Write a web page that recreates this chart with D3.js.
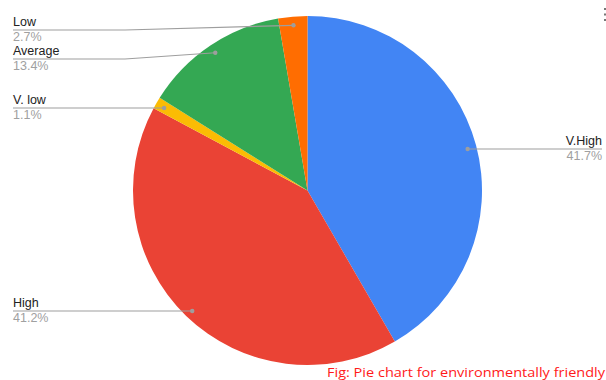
<!DOCTYPE html>
<html>
<head>
<meta charset="utf-8">
<script src="https://cdn.jsdelivr.net/npm/d3@7"></script>
<style>
  html, body { margin: 0; padding: 0; background: #fff; }
  svg { display: block; }
</style>
</head>
<body>
<svg id="chart" width="606" height="380"></svg>
<script>
// Slice categories, clockwise from 12 o'clock
const categories = ["V.High", "High", "V. low", "Average", "Low"];
// Share of responses (%)
const values = [41.7, 41.2, 1.1, 13.4, 2.7];
const colors = ["#4285F4", "#EA4335", "#FBBC04", "#34A853", "#FF6D01"];
const caption = "Fig: Pie chart for environmentally friendly";

// Label placement: side and the y of each leader's horizontal run
const labelSide = ["right", "left", "left", "left", "left"];
const labelLineY = [149, 311, 108, 59, 30];

const svg = d3.select("#chart");
const cx = 307.5, cy = 190.5, R = 174.5;

const pie = d3.pie().sort(null).value(d => d.value);
const data = categories.map((c, i) => ({ name: c, value: values[i], color: colors[i], side: labelSide[i], ly: labelLineY[i] }));
const arcs = pie(data);

const arc = d3.arc().innerRadius(0).outerRadius(R);
const dotArc = d3.arc().innerRadius(R * 0.95).outerRadius(R * 0.95);

const g = svg.append("g").attr("transform", `translate(${cx},${cy})`);
g.selectAll("path.slice")
  .data(arcs)
  .join("path")
  .attr("class", "slice")
  .attr("d", arc)
  .attr("fill", d => d.data.color);

// Leader lines and labels
const fmt = d3.format(".1f");
const leftX = 13, rightX = 602, elbowX = 125;
const font = "Arial, 'Liberation Sans', sans-serif";
const lab = svg.append("g");

arcs.forEach(a => {
  const [dx, dy] = dotArc.centroid(a);
  const px = cx + dx, py = cy + dy;
  const d = a.data;
  let pts;
  if (d.side === "left") {
    pts = Math.abs(py - d.ly) > 2
      ? [[px, py], [elbowX, d.ly], [leftX, d.ly]]
      : [[px, d.ly], [leftX, d.ly]];
  } else {
    pts = [[px, d.ly], [rightX, d.ly]];
  }
  lab.append("path")
    .attr("d", d3.line()(pts))
    .attr("fill", "none")
    .attr("stroke", "#9e9e9e")
    .attr("stroke-width", 1.2);
  lab.append("circle")
    .attr("cx", pts[0][0]).attr("cy", pts[0][1]).attr("r", 2.2)
    .attr("fill", "#9e9e9e");

  const tx = d.side === "left" ? leftX : rightX;
  const anchor = d.side === "left" ? "start" : "end";
  lab.append("text")
    .attr("x", tx).attr("y", d.ly - 4)
    .attr("text-anchor", anchor)
    .attr("font-family", font)
    .attr("font-size", 12.5)
    .attr("fill", "#222")
    .text(d.name);
  lab.append("text")
    .attr("x", tx).attr("y", d.ly + 11)
    .attr("text-anchor", anchor)
    .attr("font-family", font)
    .attr("font-size", 12.5)
    .attr("fill", "#a0a0a0")
    .text(fmt(d.value) + "%");
});

// Menu dots in the top-right corner
svg.append("g").selectAll("rect")
  .data([9, 14.5, 20])
  .join("rect")
  .attr("x", 604).attr("y", d => d - 1).attr("width", 2).attr("height", 2)
  .attr("fill", "#777");

// Caption
svg.append("text")
  .attr("x", 327).attr("y", 377)
  .attr("font-family", "'Open Sans', 'Liberation Sans', sans-serif")
  .attr("font-size", 13.5)
  .attr("fill", "#ff1a1a")
  .attr("textLength", 278)
  .attr("lengthAdjust", "spacingAndGlyphs")
  .text(caption);
</script>
</body>
</html>
